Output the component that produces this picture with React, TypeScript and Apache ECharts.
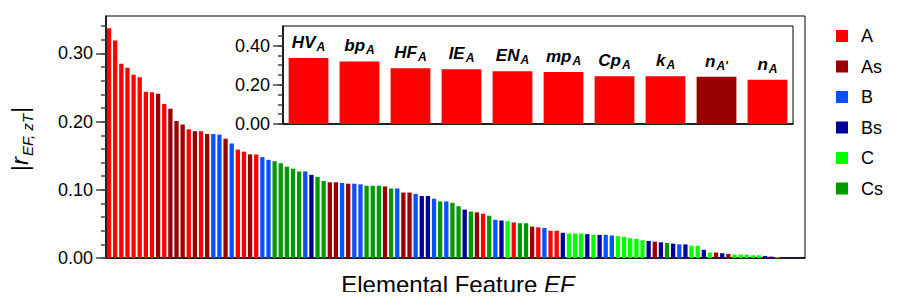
import React, { useEffect, useRef } from "react";
import * as echarts from "echarts";

const FONT = "'Liberation Sans', Arial, Helvetica, sans-serif";

const groups = ["A", "As", "B", "Bs", "C", "Cs"];
const groupColors = ["#ff0000", "#990000", "#0a50ff", "#000099", "#00ff00", "#009900"];

// |r| for each elemental feature, sorted
const values = [
  0.337, 0.319, 0.285, 0.279, 0.269, 0.265, 0.244, 0.243, 0.241, 0.226,
  0.219, 0.201, 0.196, 0.189, 0.186, 0.186, 0.182, 0.182, 0.181, 0.175,
  0.168, 0.159, 0.156, 0.152, 0.152, 0.148, 0.144, 0.142, 0.139, 0.134,
  0.131, 0.127, 0.127, 0.122, 0.119, 0.113, 0.111, 0.111, 0.110, 0.109,
  0.109, 0.108, 0.106, 0.106, 0.106, 0.105, 0.102, 0.102, 0.096, 0.096,
  0.094, 0.091, 0.091, 0.087, 0.083, 0.083, 0.081, 0.076, 0.071, 0.068,
  0.067, 0.065, 0.062, 0.056, 0.055, 0.054, 0.052, 0.051, 0.051, 0.046,
  0.045, 0.044, 0.040, 0.040, 0.037, 0.036, 0.036, 0.036, 0.035, 0.034,
  0.034, 0.034, 0.033, 0.032, 0.031, 0.029, 0.028, 0.026, 0.025, 0.024,
  0.023, 0.022, 0.021, 0.020, 0.020, 0.018, 0.018, 0.012, 0.008, 0.008,
  0.007, 0.006, 0.005, 0.005, 0.005, 0.004, 0.004, 0.003, 0.002, 0.0015,
  0.001, 0.001, 0.0006, 0.0005,
];

const featureGroups = [
  "A", "A", "A", "A", "A", "A", "A", "A", "As", "A",
  "As", "As", "As", "A", "As", "A", "As", "B", "B", "As",
  "B", "A", "A", "As", "A", "B", "B", "Cs", "Cs", "Cs",
  "Cs", "Cs", "B", "Bs", "Cs", "Cs", "As", "As", "B", "As",
  "B", "B", "Cs", "Cs", "Cs", "As", "Cs", "B", "As", "As",
  "B", "Bs", "Bs", "B", "Cs", "B", "Cs", "Cs", "Bs", "Cs",
  "As", "A", "Cs", "B", "Bs", "C", "A", "Cs", "Cs", "As",
  "A", "B", "A", "A", "Bs", "C", "C", "C", "Bs", "C",
  "Bs", "B", "B", "C", "C", "C", "C", "C", "Bs", "As",
  "Bs", "Cs", "Bs", "B", "Bs", "C", "C", "Bs", "C", "As",
  "Bs", "As", "C", "C", "C", "C", "C", "Bs", "Bs", "C",
  "Bs", "Bs", "Bs", "Bs",
];

const featureIds = values.map((_, i) => `EF${i + 1}`);

// inset: top ten features
const insetNames = ["HV", "bp", "HF", "IE", "EN", "mp", "Cp", "k", "n", "n"];
const insetSubs = ["A", "A", "A", "A", "A", "A", "A", "A", "A'", "A"];
const insetCount = 10;

const mainMajorTicks = [0, 0.1, 0.2, 0.3];
const mainMinorTicks = [0, 0.02, 0.04, 0.06, 0.08, 0.1, 0.12, 0.14, 0.16, 0.18, 0.2, 0.22, 0.24, 0.26, 0.28, 0.3, 0.32, 0.34];
const insetMajorTicks = [0, 0.2, 0.4];
const insetMinorTicks = [0, 0.05, 0.1, 0.15, 0.2, 0.25, 0.3, 0.35, 0.4, 0.45];

const MAIN_MAX = 0.355;
const INSET_MAX = 0.5;

export default function App() {
  const ref = useRef<HTMLDivElement>(null);

  useEffect(() => {
    if (!ref.current) return;
    const chart = echarts.init(ref.current, undefined, { renderer: "svg" });
    const colorOf = (g: string) => groupColors[groups.indexOf(g)];
    const fmt2 = (v: number) => v.toFixed(2);

    const mainSeries = groups.map((g, gi) => ({
      type: "bar",
      name: g,
      stack: "total",
      xAxisIndex: 0,
      yAxisIndex: 0,
      barCategoryGap: "30%",
      itemStyle: { color: groupColors[gi] },
      data: values.map((v, i) => (featureGroups[i] === g ? v : null)),
    }));

    const insetSeries = {
      type: "bar",
      name: "inset",
      xAxisIndex: 1,
      yAxisIndex: 2,
      barCategoryGap: "22%",
      z: 10,
      data: values.slice(0, insetCount).map((v, i) => ({
        value: v,
        itemStyle: { color: colorOf(featureGroups[i]) },
      })),
      label: {
        show: true,
        position: "top",
        distance: 7,
        formatter: (p: any) => `{m|${insetNames[p.dataIndex]}}{s|${insetSubs[p.dataIndex]}}`,
        rich: {
          m: { fontSize: 17, fontWeight: "bold", fontStyle: "italic", color: "#000", fontFamily: FONT, verticalAlign: "bottom", lineHeight: 22 },
          s: { fontSize: 12, fontWeight: "bold", fontStyle: "italic", color: "#000", fontFamily: FONT, verticalAlign: "bottom", lineHeight: 16, padding: [0, 0, -2, 1] },
        },
      },
    };

    const majorTick = { show: true, length: 10, lineStyle: { color: "#444", width: 1.5 } };
    const minorTick = { show: true, length: 5, lineStyle: { color: "#444", width: 1.5 } };
    const labelStyle = { color: "#000", fontSize: 18, fontFamily: FONT, margin: 13 };

    chart.setOption({
      animation: false,
      backgroundColor: "#fff",
      textStyle: { fontFamily: FONT },
      legend: {
        orient: "vertical",
        left: 831,
        top: 21,
        data: groups,
        icon: "rect",
        itemWidth: 12,
        itemHeight: 12,
        itemGap: 10.5,
        selectedMode: false,
        textStyle: { fontSize: 18, color: "#000", fontFamily: FONT, lineHeight: 20, padding: [0, 0, 0, 8] },
      },
      grid: [
        { left: 106, right: 95, top: 16, bottom: 42, show: true, borderColor: "#000", borderWidth: 1, backgroundColor: "#fff" },
        { left: 283, right: 107, top: 26, bottom: 176, show: true, borderColor: "#000", borderWidth: 1, backgroundColor: "#fff" },
      ],
      xAxis: [
        {
          type: "category",
          gridIndex: 0,
          data: featureIds,
          boundaryGap: true,
          axisLine: { show: true, lineStyle: { color: "#000", width: 1.5 } },
          axisTick: { show: false },
          axisLabel: { show: false },
        },
        {
          type: "category",
          gridIndex: 1,
          data: featureIds.slice(0, insetCount),
          boundaryGap: true,
          axisLine: { show: true, lineStyle: { color: "#000", width: 1.5 } },
          axisTick: { show: false },
          axisLabel: { show: false },
        },
      ],
      yAxis: [
        {
          type: "value",
          gridIndex: 0,
          position: "left",
          min: 0,
          max: MAIN_MAX,
          interval: 0.1,
          axisLine: { show: true, lineStyle: { color: "#000", width: 1.5 } },
          axisTick: { ...majorTick, customValues: mainMajorTicks },
          axisLabel: { ...labelStyle, customValues: mainMajorTicks, formatter: fmt2 },
          splitLine: { show: false },
        },
        {
          type: "value",
          gridIndex: 0,
          position: "left",
          min: 0,
          max: MAIN_MAX,
          interval: 0.02,
          axisLine: { show: false },
          axisTick: { ...minorTick, customValues: mainMinorTicks },
          axisLabel: { show: false },
          splitLine: { show: false },
        },
        {
          type: "value",
          gridIndex: 1,
          position: "left",
          min: 0,
          max: INSET_MAX,
          interval: 0.2,
          axisLine: { show: true, lineStyle: { color: "#000", width: 1.5 } },
          axisTick: { ...majorTick, customValues: insetMajorTicks },
          axisLabel: { ...labelStyle, customValues: insetMajorTicks, formatter: fmt2 },
          splitLine: { show: false },
        },
        {
          type: "value",
          gridIndex: 1,
          position: "left",
          min: 0,
          max: INSET_MAX,
          interval: 0.05,
          axisLine: { show: false },
          axisTick: { ...minorTick, customValues: insetMinorTicks },
          axisLabel: { show: false },
          splitLine: { show: false },
        },
      ],
      graphic: [
        {
          type: "text",
          x: 18,
          y: 139,
          rotation: Math.PI / 2,
          style: {
            text: "{n||}{i|r}{s|EF, zT}{n||}",
            align: "center",
            verticalAlign: "middle",
            rich: {
              n: { fontSize: 24, fontFamily: FONT, fill: "#000", verticalAlign: "bottom", lineHeight: 26 },
              i: { fontSize: 24, fontFamily: FONT, fontStyle: "italic", fill: "#000", verticalAlign: "bottom", lineHeight: 26 },
              s: { fontSize: 15, fontFamily: FONT, fontStyle: "italic", fill: "#000", verticalAlign: "bottom", lineHeight: 18, padding: [0, 1, -4, 1] },
            },
          },
        },
        {
          type: "text",
          x: 458,
          y: 284,
          style: {
            text: "{n|Elemental Feature }{i|EF}",
            align: "center",
            verticalAlign: "middle",
            rich: {
              n: { fontSize: 24, fontFamily: FONT, fill: "#000" },
              i: { fontSize: 24, fontFamily: FONT, fontStyle: "italic", fill: "#000" },
            },
          },
        },
      ],
      series: [...mainSeries, insetSeries],
    });

    return () => chart.dispose();
  }, []);

  return <div ref={ref} style={{ width: 900, height: 300, margin: -8 }} />;
}
